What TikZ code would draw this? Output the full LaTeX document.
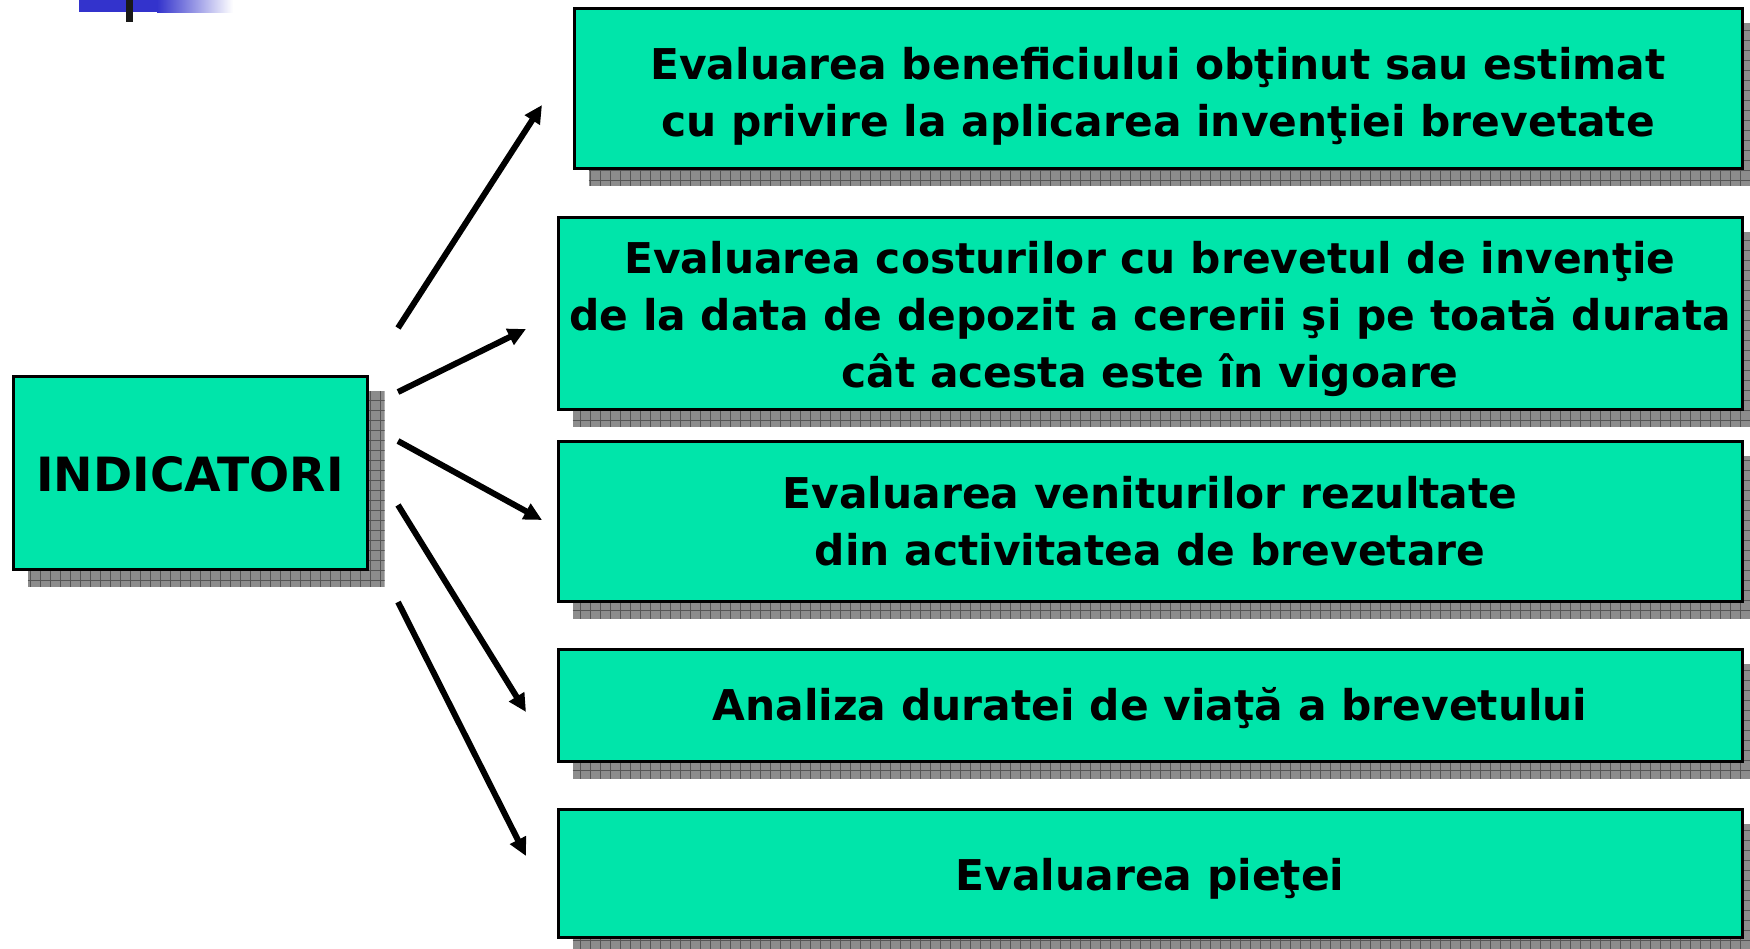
\documentclass[tikz,border=0pt]{standalone}
\usepackage{fontspec}
\setmainfont{DejaVu Sans}
\usetikzlibrary{arrows.meta,backgrounds}
\definecolor{boxgreen}{RGB}{0,229,170}
\definecolor{shadowfill}{RGB}{140,140,140}
\definecolor{gridcol}{RGB}{85,85,85}
\definecolor{barblue}{RGB}{51,51,204}
\newcommand{\boxtext}[2]{\raisebox{#1}[\height][\depth]{\begin{tabular}{@{}c@{}}#2\end{tabular}}}
\tikzset{
  boxnode/.style={draw=black, line width=1.5pt, fill=boxgreen, align=center,
    inner sep=0pt, font=\bfseries\fontsize{21.2}{28.5}\selectfont},
  arrowline/.style={line width=3pt, -{Triangle[length=9pt,width=8.5pt]}},
}
\begin{document}
\begin{tikzpicture}[x=0.5pt,y=-0.5pt]
\useasboundingbox (0,0) rectangle (1750,948);
% top-left decoration
\fill[barblue] (79,0) rectangle (157,12);
\shade[left color=barblue, right color=white] (157,0) rectangle (233,12);
\fill[black!90] (126,0) rectangle (133,22);
% boxes
\node[boxnode, minimum width=177pt, minimum height=96.5pt, font=\bfseries\fontsize{23.6}{28.5}\selectfont] (ind) at (190,472.5) {\boxtext{-3.8pt}{INDICATORI}};
\node[boxnode, minimum width=584pt, minimum height=80pt] (b1) at (1158,88)
  {\boxtext{-4.1pt}{Evaluarea beneficiului obţinut sau estimat\\cu privire la aplicarea invenţiei brevetate}};
\node[boxnode, minimum width=592pt, minimum height=96pt] (b2) at (1150,313)
  {\boxtext{-3pt}{Evaluarea costurilor cu brevetul de invenţie\\de la data de depozit a cererii şi pe toată durata\\cât acesta este în vigoare}};
\node[boxnode, minimum width=592pt, minimum height=80pt] (b3) at (1150,521)
  {\boxtext{-2.5pt}{Evaluarea veniturilor rezultate\\din activitatea de brevetare}};
\node[boxnode, minimum width=592pt, minimum height=56pt] (b4) at (1150,705)
  {\boxtext{-2pt}{Analiza duratei de viaţă a brevetului}};
\node[boxnode, minimum width=592pt, minimum height=64pt] (b5) at (1150,873)
  {\boxtext{-2.8pt}{Evaluarea pieţei}};
% shadows
\begin{scope}[on background layer]
\foreach \n in {ind,b1,b2,b3,b4,b5}{
  \begin{scope}
    \clip ([shift={(8pt,-8pt)}]\n.south west) rectangle ([shift={(8pt,-8pt)}]\n.north east);
    \fill[shadowfill] ([shift={(8pt,-8pt)}]\n.south west) rectangle ([shift={(8pt,-8pt)}]\n.north east);
    \draw[gridcol, line width=0.5pt, step=5pt] ([shift={(8pt,-8pt)}]\n.south west) grid ([shift={(8pt,-8pt)}]\n.north east);
  \end{scope}
}
\end{scope}
% arrows
\coordinate (a1s) at (398,328); \coordinate (a1e) at (542,105);
\coordinate (a2s) at (398,392); \coordinate (a2e) at (526,329);
\coordinate (a3s) at (398,441); \coordinate (a3e) at (542,520);
\coordinate (a4s) at (398,505); \coordinate (a4e) at (526,712);
\coordinate (a5s) at (398,602); \coordinate (a5e) at (526,856);
\foreach \i in {1,...,5}{ \draw[arrowline] (a\i s) -- (a\i e); }
\end{tikzpicture}
\end{document}
